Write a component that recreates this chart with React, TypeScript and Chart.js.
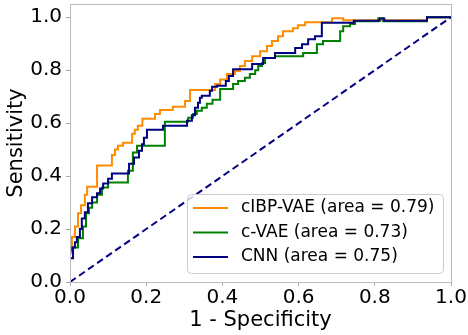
import React, { useEffect, useRef } from "react";
import { Chart, registerables } from "chart.js";

Chart.register(...registerables);

const xTicks = [0, 0.2, 0.4, 0.6, 0.8, 1.0];
const yTicks = [0, 0.2, 0.4, 0.6, 0.8, 1.0];
const xTitle = "1 - Specificity";
const yTitle = "Sensitivity";

const cibpLabel = "cIBP-VAE (area = 0.79)";
const cvaeLabel = "c-VAE (area = 0.73)";
const cnnLabel = "CNN (area = 0.75)";

// ends of each horizontal run of the ROC staircase (FPR, TPR)
const cibpFpr = [0, 0.005, 0.013, 0.021, 0.029, 0.039, 0.045, 0.071, 0.110, 0.118, 0.126, 0.139, 0.163, 0.170, 0.178, 0.190, 0.223, 0.236, 0.270, 0.302, 0.315, 0.381, 0.394, 0.412, 0.433, 0.446, 0.459, 0.478, 0.499, 0.517, 0.530, 0.546, 0.559, 0.585, 0.598, 0.617, 0.688, 0.717, 0.937, 1];
const cibpTpr = [0, 0.11, 0.17, 0.21, 0.26, 0.29, 0.33, 0.36, 0.44, 0.48, 0.50, 0.515, 0.526, 0.56, 0.575, 0.59, 0.617, 0.635, 0.65, 0.662, 0.684, 0.725, 0.748, 0.765, 0.786, 0.797, 0.816, 0.835, 0.853, 0.872, 0.891, 0.91, 0.928, 0.947, 0.958, 0.97, 0.981, 0.996, 0.989, 1];

const cvaeFpr = [0, 0.005, 0.021, 0.034, 0.042, 0.050, 0.058, 0.071, 0.084, 0.100, 0.152, 0.165, 0.176, 0.249, 0.310, 0.323, 0.333, 0.346, 0.359, 0.374, 0.394, 0.428, 0.441, 0.459, 0.472, 0.486, 0.494, 0.504, 0.512, 0.538, 0.612, 0.648, 0.664, 0.709, 0.717, 0.735, 0.748, 0.809, 0.822, 0.937, 1];
const cvaeTpr = [0, 0.12, 0.13, 0.165, 0.21, 0.26, 0.28, 0.30, 0.33, 0.357, 0.376, 0.42, 0.489, 0.515, 0.605, 0.62, 0.635, 0.647, 0.658, 0.673, 0.688, 0.729, 0.748, 0.759, 0.771, 0.786, 0.80, 0.816, 0.827, 0.846, 0.853, 0.865, 0.898, 0.91, 0.947, 0.966, 0.974, 0.985, 0.996, 0.985, 1];

const cnnFpr = [0, 0.008, 0.013, 0.018, 0.026, 0.031, 0.039, 0.047, 0.058, 0.071, 0.079, 0.087, 0.100, 0.110, 0.155, 0.168, 0.181, 0.189, 0.194, 0.202, 0.244, 0.307, 0.320, 0.328, 0.336, 0.341, 0.346, 0.367, 0.373, 0.386, 0.409, 0.417, 0.428, 0.478, 0.507, 0.538, 0.591, 0.609, 0.625, 0.643, 0.661, 0.745, 0.813, 0.825, 0.937, 1];
const cnnTpr = [0, 0.09, 0.13, 0.15, 0.17, 0.20, 0.24, 0.263, 0.297, 0.32, 0.335, 0.353, 0.372, 0.39, 0.41, 0.447, 0.47, 0.496, 0.52, 0.545, 0.575, 0.59, 0.609, 0.63, 0.658, 0.677, 0.696, 0.703, 0.722, 0.737, 0.741, 0.759, 0.778, 0.804, 0.823, 0.846, 0.865, 0.884, 0.898, 0.917, 0.928, 0.979, 0.987, 0.995, 0.987, 1];

const chanceX = [0, 1];
const chanceY = [0, 1];

const FONT = "'DejaVu Sans', sans-serif";

export default function App() {
  const ref = useRef<HTMLCanvasElement>(null);

  useEffect(() => {
    const canvas = ref.current;
    if (!canvas) return;
    const toPts = (xs: number[], ys: number[]) => xs.map((x, i) => ({ x, y: ys[i] }));

    const framePlugin = {
      id: "frame",
      afterDatasetsDraw(chart: any) {
        const { ctx, chartArea: a } = chart;
        ctx.save();
        ctx.strokeStyle = "#bbbbbb";
        ctx.lineWidth = 1;
        ctx.strokeRect(Math.round(a.left) + 0.5, Math.round(a.top) + 0.5, Math.round(a.right - a.left), Math.round(a.bottom - a.top));
        ctx.restore();
      },
    };

    const legendPlugin = {
      id: "rocLegend",
      afterDraw(chart: any) {
        const { ctx, chartArea: a } = chart;
        const items = chart.data.datasets.filter((d: any) => d.label);
        ctx.save();
        ctx.font = `17px ${FONT}`;
        const textW = Math.max(...items.map((d: any) => ctx.measureText(d.label).width));
        const padL = 6, lineLen = 35, gap = 13, padR = 9, rowH = 24.5, padT = 14, padB = 16;
        const w = Math.round(padL + lineLen + gap + textW + padR);
        const h = Math.round(padT + rowH * (items.length - 1) + padB);
        const x = Math.round(a.right) - 8 - w;
        const y = Math.round(a.bottom) - 9 - h;
        ctx.beginPath();
        ctx.roundRect(x + 0.5, y + 0.5, w, h, 4);
        ctx.fillStyle = "rgba(255,255,255,0.8)";
        ctx.fill();
        ctx.strokeStyle = "#cccccc";
        ctx.lineWidth = 1;
        ctx.stroke();
        items.forEach((d: any, i: number) => {
          const cy = y + padT + rowH * i;
          ctx.beginPath();
          ctx.strokeStyle = d.borderColor;
          ctx.lineWidth = 2;
          ctx.moveTo(x + padL, cy);
          ctx.lineTo(x + padL + lineLen, cy);
          ctx.stroke();
          ctx.fillStyle = "#000000";
          ctx.textBaseline = "middle";
          ctx.textAlign = "left";
          ctx.fillText(d.label, x + padL + lineLen + gap, cy);
        });
        ctx.restore();
      },
    };

    const chart = new Chart(canvas, {
      type: "line",
      data: {
        datasets: [
          { label: cibpLabel, data: toPts(cibpFpr, cibpTpr), borderColor: "#ff8c00", borderWidth: 2, pointRadius: 0, stepped: "after", order: 3 },
          { label: cvaeLabel, data: toPts(cvaeFpr, cvaeTpr), borderColor: "#008000", borderWidth: 2, pointRadius: 0, stepped: "after", order: 2 },
          { label: cnnLabel, data: toPts(cnnFpr, cnnTpr), borderColor: "#000080", borderWidth: 2, pointRadius: 0, stepped: "after", order: 1 },
          { label: "", data: toPts(chanceX, chanceY), borderColor: "#000080", borderWidth: 2, pointRadius: 0, borderDash: [7, 4], order: 0 },
        ],
      } as any,
      options: {
        animation: false,
        responsive: false,
        maintainAspectRatio: false,
        layout: { padding: { top: 4, right: 17, left: 0, bottom: 0 } },
        plugins: { legend: { display: false }, tooltip: { enabled: false } },
        scales: {
          x: {
            type: "linear",
            min: 0,
            max: 1,
            afterBuildTicks: (s: any) => { s.ticks = xTicks.map((v) => ({ value: v })); },
            afterFit: (s: any) => { s.height = 53; s.paddingLeft = 0; s.paddingRight = 0; },
            ticks: { font: { family: FONT, size: 20 }, color: "#000000", padding: 0, maxRotation: 0, autoSkip: false, callback: (v: any) => Number(v).toFixed(1) },
            grid: { drawOnChartArea: false, drawTicks: true, tickLength: 4, color: "#aaaaaa" },
            border: { display: false },
            title: { display: true, text: xTitle, font: { family: FONT, size: 21 }, color: "#000000", padding: { top: 0, bottom: 2 } },
          },
          y: {
            type: "linear",
            min: 0,
            max: 1.05,
            afterBuildTicks: (s: any) => { s.ticks = yTicks.map((v) => ({ value: v })); },
            afterFit: (s: any) => { s.width = 70; s.paddingTop = 0; s.paddingBottom = 0; },
            ticks: { font: { family: FONT, size: 20 }, color: "#000000", padding: 4, autoSkip: false, callback: (v: any) => Number(v).toFixed(1) },
            grid: { drawOnChartArea: false, drawTicks: true, tickLength: 4, color: "#aaaaaa" },
            border: { display: false },
            title: { display: true, text: yTitle, font: { family: FONT, size: 21 }, color: "#000000", padding: { top: 4, bottom: 0 } },
          },
        },
      } as any,
      plugins: [framePlugin, legendPlugin],
    });
    return () => chart.destroy();
  }, []);

  return (
    <div style={{ position: "fixed", left: 0, top: 0, width: 468, height: 335, background: "#ffffff" }}>
      <canvas ref={ref} width={468} height={335} style={{ display: "block", width: 468, height: 335 }} />
    </div>
  );
}
